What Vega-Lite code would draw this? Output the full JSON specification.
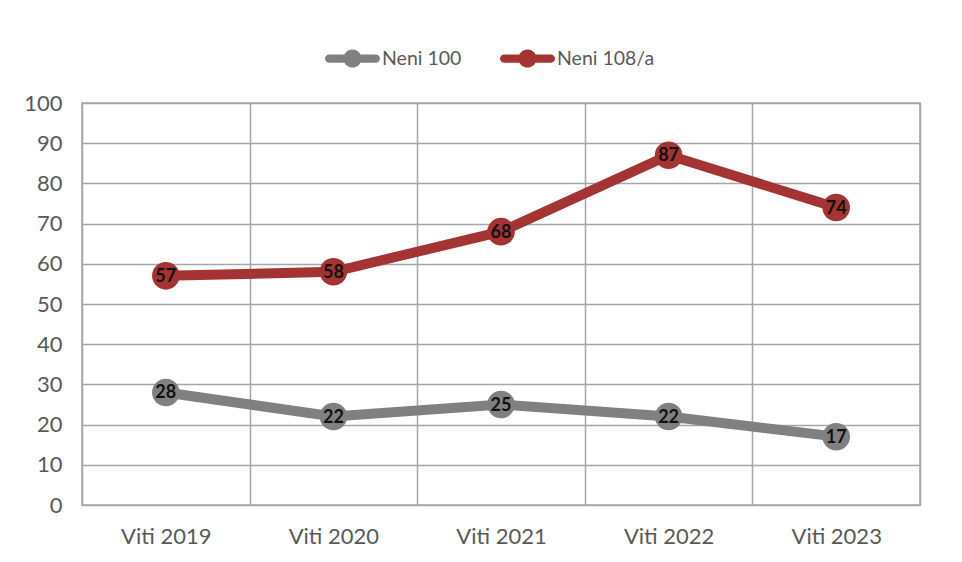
{
  "$schema": "https://vega.github.io/schema/vega-lite/v6.json",
  "width": 838,
  "height": 402,
  "autosize": {"type": "none"},
  "padding": {"left": 82, "top": 103, "right": 42, "bottom": 57},
  "background": "white",
  "config": {"view": {"stroke": "#a6a6a6", "strokeWidth": 1.5}, "font": "Lato"},
  "data": {
    "values": [
      {"year": "Viti 2019", "series": "Neni 100", "value": 28},
      {"year": "Viti 2020", "series": "Neni 100", "value": 22},
      {"year": "Viti 2021", "series": "Neni 100", "value": 25},
      {"year": "Viti 2022", "series": "Neni 100", "value": 22},
      {"year": "Viti 2023", "series": "Neni 100", "value": 17},
      {"year": "Viti 2019", "series": "Neni 108/a", "value": 57},
      {"year": "Viti 2020", "series": "Neni 108/a", "value": 58},
      {"year": "Viti 2021", "series": "Neni 108/a", "value": 68},
      {"year": "Viti 2022", "series": "Neni 108/a", "value": 87},
      {"year": "Viti 2023", "series": "Neni 108/a", "value": 74}
    ]
  },
  "encoding": {
    "x": {
      "field": "year", "type": "nominal", "sort": null,
      "scale": {"type": "band", "paddingInner": 0, "paddingOuter": 0},
      "axis": {"title": null, "tickBand": "extent", "grid": true, "gridColor": "#a6a6a6", "gridWidth": 1.5,
               "domain": false, "ticks": false, "labelAngle": 0, "labelFontSize": 22, "labelColor": "#595959", "labelPadding": 21}
    },
    "y": {
      "field": "value", "type": "quantitative",
      "scale": {"domain": [0, 100]},
      "axis": {"title": null, "values": [0, 10, 20, 30, 40, 50, 60, 70, 80, 90, 100], "gridColor": "#a6a6a6", "gridWidth": 1.5,
               "domain": false, "ticks": false, "labelFontSize": 22, "labelColor": "#595959", "labelPadding": 20}
    },
    "color": {
      "field": "series", "type": "nominal",
      "scale": {"domain": ["Neni 100", "Neni 108/a"], "range": ["#808080", "#a33432"]},
      "legend": {
        "orient": "none", "legendX": 243, "legendY": -72, "direction": "horizontal", "title": null,
        "symbolType": "M-0.85,-0.15L0.85,-0.15A0.15,0.15 0 0,1 0.85,0.15L-0.85,0.15A0.15,0.15 0 0,1 -0.85,-0.15Z M-0.33,0A0.33,0.33 0 1,1 0.33,0A0.33,0.33 0 1,1 -0.33,0Z",
        "symbolSize": 3025, "symbolStrokeWidth": 0,
        "labelFontSize": 19.5, "labelColor": "#595959", "labelOffset": 2, "columnPadding": 38,
        "encode": {"symbols": {"update": {"fill": {"scale": "color", "field": "value"}, "opacity": {"value": 1}, "strokeWidth": {"value": 0}}}}
      }
    }
  },
  "layer": [
    {"mark": {"type": "line", "strokeWidth": 10, "strokeCap": "round"}},
    {"mark": {"type": "point", "filled": true, "size": 760, "opacity": 1}},
    {
      "mark": {"type": "text", "fontWeight": "bold", "fontSize": 18, "dy": 1},
      "encoding": {"text": {"field": "value"}, "color": {"value": "#111111"}}
    }
  ]
}
